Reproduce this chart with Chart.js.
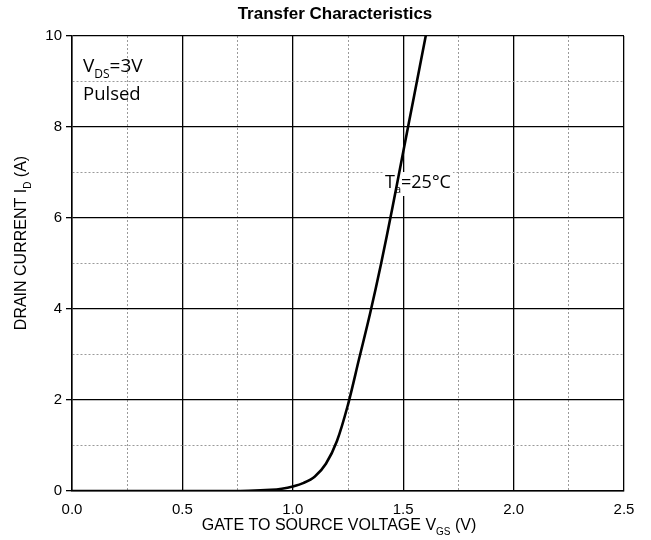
<!DOCTYPE html>
<html>
<head>
<meta charset="utf-8">
<script src="https://cdn.jsdelivr.net/npm/chart.js@4/dist/chart.umd.min.js"></script>
<style>
  html, body { margin: 0; padding: 0; background: #fff; }
  canvas { display: block; }
</style>
</head>
<body>
<canvas id="chartTransfer" width="651" height="540"></canvas>
<script>
// curva Id vs Vgs
const vgs = [0.0, 0.5, 0.7, 0.8, 0.9, 0.95, 1.0, 1.05, 1.1, 1.15, 1.2, 1.25, 1.3, 1.35, 1.4, 1.45, 1.5, 1.55, 1.6, 1.65];
const idrain = [0, 0, 0, 0.005, 0.025, 0.05, 0.1, 0.18, 0.32, 0.6, 1.1, 1.9, 2.9, 3.9, 5.0, 6.2, 7.45, 8.7, 9.95, 11.2];
const xTicks = [0.0, 0.5, 1.0, 1.5, 2.0, 2.5];
const yTicks = [0, 2, 4, 6, 8, 10];

const FONT = "'Liberation Sans', Arial, sans-serif";
const FONT_NOTE = "'Open Sans', 'Noto Sans', sans-serif";

// texto con subindices: partes [texto, esSub]
function medirPartes(ctx, partes, size, fam) {
    let w = 0;
    partes.forEach(p => {
        ctx.font = (p[1] ? Math.round(size * 0.62) : size) + "px " + fam;
        w += ctx.measureText(p[0]).width;
    });
    return w;
}

function dibujarPartes(ctx, partes, x, y, size, fam, align) {
    const w = medirPartes(ctx, partes, size, fam);
    let cx = align === "center" ? x - w / 2 : x;
    ctx.textAlign = "left";
    ctx.textBaseline = "alphabetic";
    partes.forEach(p => {
        const s = p[1] ? Math.round(size * 0.62) : size;
        ctx.font = s + "px " + fam;
        ctx.fillText(p[0], cx, p[1] ? y + size * 0.3 : y);
        cx += ctx.measureText(p[0]).width;
    });
    return w;
}

const textosPlugin = {
    id: "textos",
    beforeDatasetsDraw(chart) {
        const ctx = chart.ctx;
        ctx.save();
        // etiqueta Ta con fondo blanco
        const partes = [["T", false], ["a", true], ["=25°C", false]];
        const w = medirPartes(ctx, partes, 18, FONT_NOTE);
        ctx.fillStyle = "#fff";
        ctx.fillRect(383, 172, w + 4, 24);
        ctx.fillStyle = "#000";
        dibujarPartes(ctx, partes, 385, 188, 18, FONT_NOTE, "left");
        ctx.restore();
    },
    afterDraw(chart) {
        const ctx = chart.ctx;
        ctx.save();
        ctx.fillStyle = "#000";

        ctx.font = "bold 17px " + FONT;
        ctx.textAlign = "center";
        ctx.textBaseline = "alphabetic";
        ctx.fillText("Transfer Characteristics", 335, 19);

        dibujarPartes(ctx, [["V", false], ["DS", true], ["=3V", false]], 83, 72, 19, FONT_NOTE, "left");
        dibujarPartes(ctx, [["Pulsed", false]], 83, 100, 18.5, FONT_NOTE, "left");

        dibujarPartes(ctx, [["GATE TO SOURCE VOLTAGE V", false], ["GS", true], [" (V)", false]], 339, 530, 16, FONT, "center");

        ctx.translate(26, 243);
        ctx.rotate(-Math.PI / 2);
        dibujarPartes(ctx, [["DRAIN CURRENT I", false], ["D", true], [" (A)", false]], 0, 0, 16, FONT, "center");
        ctx.restore();
    }
};

function esMayor(valor, lista) {
    return lista.some(t => Math.abs(t - valor) < 1e-6);
}

new Chart(document.getElementById("chartTransfer"), {
    type: "line",
    data: {
        datasets: [{
            data: vgs.map((v, i) => ({ x: v, y: idrain[i] })),
            borderColor: "#000",
            borderWidth: 2.6,
            pointRadius: 0,
            tension: 0.35,
            fill: false
        }]
    },
    options: {
        responsive: false,
        animation: false,
        devicePixelRatio: 1,
        layout: { padding: { top: 36, right: 27, left: 0, bottom: 0 } },
        plugins: { legend: { display: false }, tooltip: { enabled: false } },
        scales: {
            x: {
                type: "linear",
                min: 0, max: 2.5,
                afterFit: s => { s.height = 49; },
                ticks: {
                    stepSize: 0.25,
                    autoSkip: false,
                    maxRotation: 0,
                    padding: 10,
                    color: "#000",
                    font: { family: FONT, size: 15 },
                    callback: v => esMayor(v, xTicks) ? v.toFixed(1) : ""
                },
                grid: {
                    drawTicks: false,
                    color: c => esMayor(c.tick.value, xTicks) ? "#000" : "#9a9a9a",
                    lineWidth: c => esMayor(c.tick.value, xTicks) ? 1.3 : 1
                },
                border: {
                    color: "#000", width: 1.5,
                    dash: c => (c.tick && !esMayor(c.tick.value, xTicks)) ? [2, 2] : []
                }
            },
            y: {
                min: 0, max: 10,
                afterFit: s => { s.width = 72; },
                ticks: {
                    stepSize: 1,
                    autoSkip: false,
                    padding: 4,
                    color: "#000",
                    font: { family: FONT, size: 15 },
                    callback: v => esMayor(v, yTicks) ? String(v) : ""
                },
                grid: {
                    tickLength: 6,
                    tickColor: c => esMayor(c.tick.value, yTicks) ? "#000" : "rgba(0,0,0,0)",
                    color: c => esMayor(c.tick.value, yTicks) ? "#000" : "#9a9a9a",
                    lineWidth: c => esMayor(c.tick.value, yTicks) ? 1.3 : 1
                },
                border: {
                    color: "#000", width: 1.5,
                    dash: c => (c.tick && !esMayor(c.tick.value, yTicks)) ? [2, 2] : []
                }
            }
        }
    },
    plugins: [textosPlugin]
});
</script>
</body>
</html>
